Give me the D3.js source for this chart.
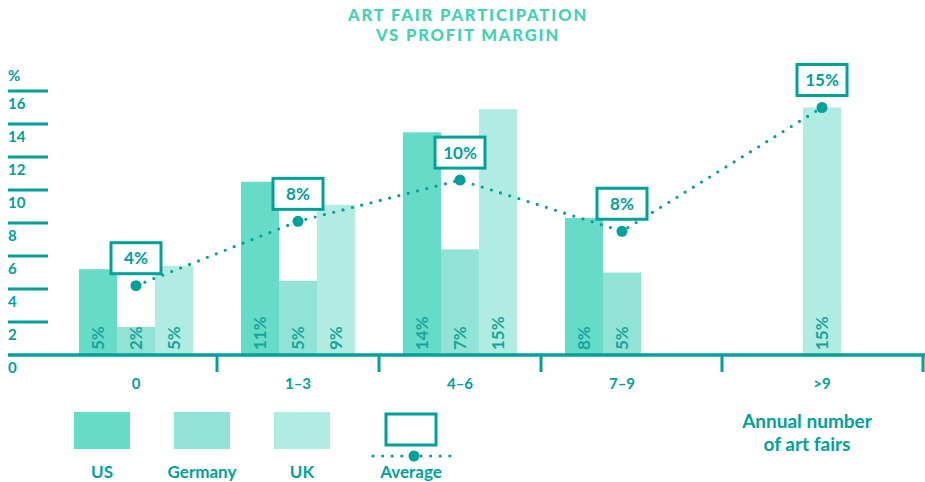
<!DOCTYPE html>
<html>
<head>
<meta charset="utf-8">
<script src="https://cdn.jsdelivr.net/npm/d3@7"></script>
<style>
  html, body { margin: 0; padding: 0; background: #fff; }
  svg { display: block; font-family: Lato, "Open Sans", sans-serif; }
</style>
</head>
<body>
<svg id="chart" width="925" height="482"></svg>
<script>
// data
var categories = ["0", "1\u20133", "4\u20136", "7\u20139", ">9"];
var series = ["US", "Germany", "UK"];
var usValues = [5.2, 10.5, 13.5, 8.3, null];
var germanyValues = [1.7, 4.5, 6.4, 5.0, null];
var ukValues = [5.4, 9.1, 14.9, null, 15.0];
var usLabels = ["5%", "11%", "14%", "8%", ""];
var germanyLabels = ["2%", "5%", "7%", "5%", ""];
var ukLabels = ["5%", "9%", "15%", "", "15%"];
var averageValues = [4.2, 8.1, 10.6, 7.5, 15.0];
var averageLabels = ["4%", "8%", "10%", "8%", "15%"];
var yTicks = [2, 4, 6, 8, 10, 12, 14, 16];

var colors = { US: "#66dbc7", Germany: "#91e3d6", UK: "#b0ece1" };
var teal = "#00a19a";

var svg = d3.select("#chart");

var values = { US: usValues, Germany: germanyValues, UK: ukValues };
var labels = { US: usLabels, Germany: germanyLabels, UK: ukLabels };

var y = d3.scaleLinear().domain([0, 16]).range([355, 91]);
var x = d3.scaleBand().domain(categories).range([55, 865]).paddingInner(0);
var barW = 38;
var xs = d3.scaleBand().domain(series)
  .range([(x.bandwidth() - 3 * barW) / 2, (x.bandwidth() + 3 * barW) / 2]);

// where the label / average dot sits in each group
function anchor(i) {
  var c = categories[i];
  var present = series.filter(function(s) { return values[s][i] != null; });
  if (present.length === 1) return x(c) + xs(present[0]) + xs.bandwidth() / 2;
  return x(c) + x.bandwidth() / 2;
}

// title
svg.append("text")
  .attr("text-anchor", "middle")
  .attr("fill", "#3fd2b5")
  .attr("font-weight", 900)
  .attr("font-size", 16.5)
  .attr("letter-spacing", 1.9)
  .selectAll("tspan")
  .data(["ART FAIR PARTICIPATION", "VS PROFIT MARGIN"])
  .enter().append("tspan")
  .attr("x", 468)
  .attr("y", function(d, i) { return 21 + i * 20; })
  .text(function(d) { return d; });

// y axis (short rules with labels beneath)
var yAxis = svg.append("g");
yAxis.selectAll("line")
  .data(yTicks)
  .enter().append("line")
  .attr("x1", 8).attr("x2", 48)
  .attr("y1", function(d) { return y(d); })
  .attr("y2", function(d) { return y(d); })
  .attr("stroke", teal).attr("stroke-width", 3);
yAxis.selectAll("text")
  .data([0].concat(yTicks))
  .enter().append("text")
  .attr("x", 8)
  .attr("y", function(d) { return y(d) + 18; })
  .attr("fill", teal)
  .attr("font-weight", 700)
  .attr("font-size", 15)
  .text(function(d) { return d; });
yAxis.append("text")
  .attr("x", 8).attr("y", y(16) - 10)
  .attr("fill", teal).attr("font-weight", 700).attr("font-size", 15)
  .text("%");

// bars
var bars = [];
categories.forEach(function(c, i) {
  series.forEach(function(s) {
    if (values[s][i] != null) bars.push({ cat: c, s: s, v: values[s][i], label: labels[s][i] });
  });
});

var barG = svg.append("g");
barG.selectAll("rect")
  .data(bars)
  .enter().append("rect")
  .attr("x", function(d) { return x(d.cat) + xs(d.s); })
  .attr("width", xs.bandwidth())
  .attr("y", function(d) { return y(d.v); })
  .attr("height", function(d) { return y(0) - y(d.v); })
  .attr("fill", function(d) { return colors[d.s]; });

barG.selectAll("text")
  .data(bars)
  .enter().append("text")
  .attr("transform", function(d) {
    return "translate(" + (x(d.cat) + xs(d.s) + xs.bandwidth() / 2 + 6) + "," + (y(0) - 5) + ") rotate(-90)";
  })
  .attr("fill", "#16a59b")
  .attr("font-weight", 700)
  .attr("font-size", 17)
  .text(function(d) { return d.label; });

// x axis
svg.append("line")
  .attr("x1", 8).attr("x2", 925)
  .attr("y1", y(0)).attr("y2", y(0))
  .attr("stroke", teal).attr("stroke-width", 3.5);

var seps = [];
for (var i = 1; i < categories.length; i++) seps.push((anchor(i - 1) + anchor(i)) / 2);
seps.push(923);
svg.append("g").selectAll("line")
  .data(seps)
  .enter().append("line")
  .attr("x1", function(d) { return d; }).attr("x2", function(d) { return d; })
  .attr("y1", y(0)).attr("y2", y(0) + 17)
  .attr("stroke", teal).attr("stroke-width", 3);

svg.append("g").selectAll("text")
  .data(categories)
  .enter().append("text")
  .attr("x", function(d, i) { return anchor(i); })
  .attr("y", y(0) + 34)
  .attr("text-anchor", "middle")
  .attr("fill", teal)
  .attr("font-weight", 700)
  .attr("font-size", 15)
  .text(function(d) { return d; });

// average line
var avg = averageValues.map(function(v, i) { return { x: anchor(i), y: y(v), label: averageLabels[i] }; });
var line = d3.line().x(function(d) { return d.x; }).y(function(d) { return d.y; });

svg.append("path")
  .datum(avg)
  .attr("d", line)
  .attr("fill", "none")
  .attr("stroke", teal)
  .attr("stroke-width", 3.2)
  .attr("stroke-linecap", "round")
  .attr("stroke-dasharray", "0 9.6");

svg.append("g").selectAll("circle")
  .data(avg)
  .enter().append("circle")
  .attr("cx", function(d) { return d.x; })
  .attr("cy", function(d) { return d.y; })
  .attr("r", 5.5)
  .attr("fill", teal);

var boxes = svg.append("g").selectAll("g")
  .data(avg)
  .enter().append("g")
  .attr("transform", function(d) { return "translate(" + d.x + "," + (d.y - 28) + ")"; });
boxes.append("rect")
  .attr("x", -25).attr("y", -15)
  .attr("width", 50).attr("height", 31)
  .attr("fill", "#fff")
  .attr("stroke", teal).attr("stroke-width", 3);
boxes.append("text")
  .attr("text-anchor", "middle")
  .attr("y", 6.5)
  .attr("fill", teal)
  .attr("font-weight", 700)
  .attr("font-size", 17)
  .text(function(d) { return d.label; });

// legend
var legend = svg.append("g");
var legendItems = series.concat(["Average"]);
var lx = function(i) { return 102 + i * 100 + (i === 3 ? 9 : 0); };

legend.selectAll("rect.sw")
  .data(series)
  .enter().append("rect")
  .attr("class", "sw")
  .attr("x", function(d, i) { return lx(i) - 28; })
  .attr("y", 412)
  .attr("width", 56).attr("height", 37)
  .attr("fill", function(d) { return colors[d]; });

legend.append("rect")
  .attr("x", lx(3) - 25).attr("y", 414)
  .attr("width", 50).attr("height", 31)
  .attr("fill", "#fff")
  .attr("stroke", teal).attr("stroke-width", 3);
legend.append("line")
  .attr("x1", lx(3) - 38).attr("x2", lx(3) + 42)
  .attr("y1", 456).attr("y2", 456)
  .attr("stroke", teal).attr("stroke-width", 3.2)
  .attr("stroke-linecap", "round")
  .attr("stroke-dasharray", "0 9.6");
legend.append("circle")
  .attr("cx", lx(3) + 3).attr("cy", 456).attr("r", 5.5)
  .attr("fill", teal);

legend.selectAll("text")
  .data(legendItems)
  .enter().append("text")
  .attr("x", function(d, i) { return lx(i); })
  .attr("y", 478)
  .attr("text-anchor", "middle")
  .attr("fill", teal)
  .attr("font-weight", 700)
  .attr("font-size", 17)
  .text(function(d) { return d; });

// axis title
svg.append("text")
  .attr("text-anchor", "middle")
  .attr("fill", teal)
  .attr("font-weight", 700)
  .attr("font-size", 19)
  .selectAll("tspan")
  .data(["Annual number", "of art fairs"])
  .enter().append("tspan")
  .attr("x", 807)
  .attr("y", function(d, i) { return 428 + i * 23; })
  .text(function(d) { return d; });
</script>
</body>
</html>
